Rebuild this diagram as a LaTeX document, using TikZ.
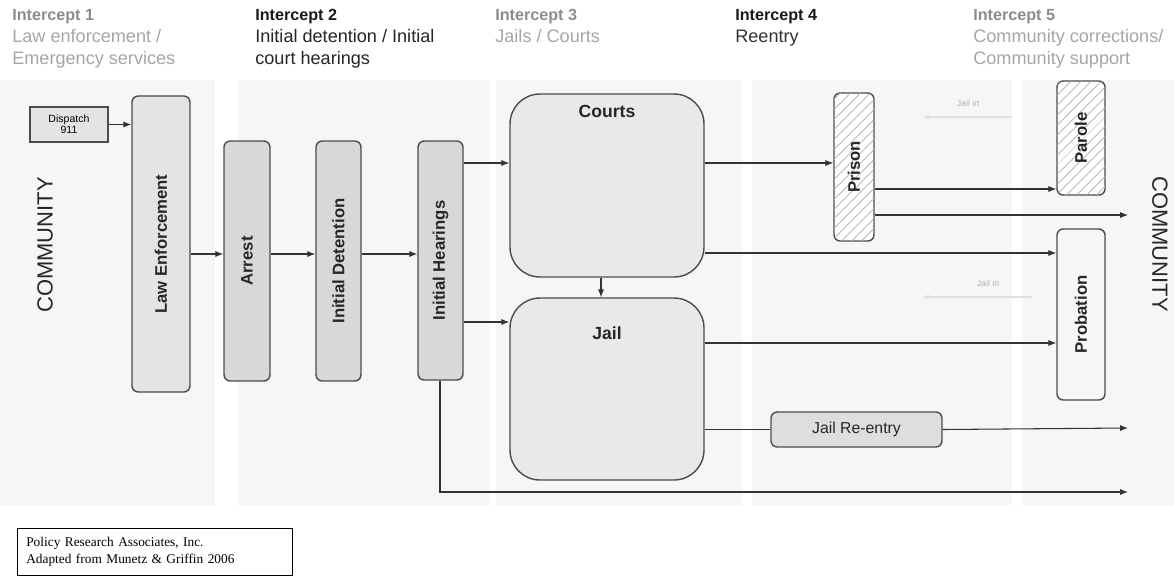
\documentclass[tikz,border=0pt]{standalone}
\usepackage{fontspec}
\setmainfont{Liberation Sans}
\newfontfamily\footfont{Liberation Serif}
\usetikzlibrary{arrows.meta,patterns.meta}
\definecolor{boxline}{HTML}{4C4C4C}
\definecolor{hdgray}{HTML}{8C8C8C}
\definecolor{subgray}{HTML}{A6A6A6}
\definecolor{lawfill}{HTML}{E4E4E4}
\definecolor{stagefill}{HTML}{D8D8D8}
\definecolor{bigfill}{HTML}{E9E9E9}
\definecolor{bandgray}{HTML}{F6F6F6}
\begin{document}
\begin{tikzpicture}[%
        x=0.02cm, y=-0.02cm,
        stage/.style={draw=boxline, line width=0.8pt, rounded corners=3.5pt,
            fill=stagefill, inner sep=0pt},
        vlabel/.style={rotate=90, font=\fontsize{9.5}{11}\selectfont\bfseries,
            text=black!85},
        hatched/.style={stage, fill=white,
            postaction={pattern={Lines[angle=45,distance=4pt,line width=0.5pt]},
                pattern color=black!30}},
        bigbox/.style={stage, rounded corners=17pt, fill=bigfill},
        bigtext/.style={font=\fontsize{10}{12}\selectfont\bfseries, text=black!85},
        flow/.style={draw=black!80, line width=0.6pt,
            -{Latex[length=4.5pt,width=3.5pt]}},
        plain/.style={draw=black!80, line width=0.6pt},
        ghost/.style={draw=black!12, line width=0.6pt,
            -{Latex[length=4pt,width=3pt]}},
        ghosttext/.style={font=\fontsize{5}{6}\selectfont, text=black!30},
        heading/.style={anchor=north west, inner sep=0pt, align=left,
            font=\fontsize{10.3}{12.6}\selectfont},
        community/.style={font=\fontsize{12.5}{14}\selectfont, text=black!85}
    ]
        \useasboundingbox (0,0) rectangle (1174,576);
        \fill[white] (0,0) rectangle (1174,576);
        \foreach \xa/\xb in {0/215, 238/490, 496/742, 752/1012, 1022/1174}
            \fill[bandgray] (\xa,80) rectangle (\xb,505);

        % intercept headings
        \foreach \n/\x/\tcol/\scol/\sub in
            {1/12/hdgray/subgray/{Law enforcement /\\Emergency services},
             2/255/black!90/black!85/{Initial detention / Initial\\court hearings},
             3/495/hdgray/subgray/{Jails / Courts},
             4/735/black!90/black!80/{Reentry},
             5/973/hdgray/subgray/{Community corrections/\\Community support}}
            \node [heading, text=\scol] (icpt\n) at (\x,9)
                {\textcolor{\tcol}{\fontsize{9.2}{12.6}\selectfont\bfseries
                    Intercept \n}\\\sub};

        \node [community, rotate=90] (commleft) at (45,245) {COMMUNITY};
        \node [community, rotate=-90] (commright) at (1160,244) {COMMUNITY};

        % stages
        \node [stage, rounded corners=0pt, fill=lawfill, minimum width=1.56cm,
            minimum height=0.70cm, align=center,
            font=\fontsize{6}{6.5}\selectfont] (dispatch) at (69,124.5)
            {Dispatch\\911};
        \node [stage, fill=lawfill, minimum width=1.16cm, minimum height=5.92cm,
            label={[vlabel]center:Law Enforcement}] (law) at (161,244) {};
        \node [stage, minimum width=0.92cm, minimum height=4.80cm,
            label={[vlabel]center:Arrest}] (arrest) at (247,261) {};
        \node [stage, minimum width=0.90cm, minimum height=4.80cm,
            label={[vlabel]center:Initial Detention}] (detention) at (338.5,261) {};
        \node [stage, minimum width=0.90cm, minimum height=4.78cm,
            label={[vlabel]center:Initial Hearings}] (hearings) at (440.5,260.5) {};
        \node [bigbox, minimum width=3.88cm, minimum height=3.66cm,
            label={[bigtext, below=3pt]north:Courts}] (courts) at (607,185.5) {};
        \node [bigbox, minimum width=3.88cm, minimum height=3.64cm,
            label={[bigtext, below=13pt]north:Jail}] (jail) at (607,389) {};
        \node [hatched, minimum width=0.80cm, minimum height=2.96cm,
            label={[vlabel]center:Prison}] (prison) at (854,167) {};
        \node [hatched, minimum width=0.96cm, minimum height=2.28cm,
            label={[vlabel]center:Parole}] (parole) at (1081,138) {};
        \node [stage, fill=black!3, minimum width=0.96cm, minimum height=3.42cm,
            label={[vlabel]center:Probation}] (probation) at (1081,314.5) {};
        \node [stage, fill=black!13, minimum width=3.42cm, minimum height=0.70cm,
            font=\fontsize{9}{10}\selectfont, text=black!85] (reentry)
            at (856.5,429.5) {Jail Re-entry};

        \node [draw=black, line width=0.6pt, fill=white, anchor=north west,
            text width=5.14cm, minimum height=0.94cm, align=left,
            font=\footfont\fontsize{7.6}{9.6}\selectfont, inner xsep=5pt]
            (credit) at (17,528)
            {Policy Research Associates, Inc.\\Adapted from Munetz \& Griffin 2006};

        % free ends into the community
        \coordinate (commA) at (1128,215);
        \coordinate (commB) at (1128,428);
        \coordinate (commC) at (1128,492);
        \coordinate (ghostA) at (1012,117);
        \coordinate (ghostAtip) at (922,117);
        \coordinate (ghostB) at (1032,297);
        \coordinate (ghostBtip) at (922,297);
        \node [ghosttext] (jailinA) at (968,103) {Jail in};
        \node [ghosttext] (jailinB) at (988,283) {Jail in};

        % connectors
        \draw [flow] (dispatch.east) -- (law.west |- dispatch.east);
        \foreach \a/\b in {law/arrest, arrest/detention, detention/hearings}
            \draw [flow] (\a.east |- 0,254) -- (\b.west |- 0,254);
        \draw [flow] (hearings.east |- 0,163) -- (courts.west |- 0,163);
        \draw [flow] (hearings.east |- 0,322) -- (jail.west |- 0,322);
        \draw [flow] (courts.south -| 601,0) -- (jail.north -| 601,0);
        \draw [flow] (courts.east |- 0,163) -- (prison.west |- 0,163);
        \draw [flow] (prison.east |- 0,189) -- (parole.west |- 0,189);
        \draw [flow] (prison.east |- commA) -- (commA);
        \draw [flow] (courts.east |- 0,253) -- (probation.west |- 0,253);
        \draw [flow] (jail.east |- 0,343) -- (probation.west |- 0,343);
        \draw [plain] (jail.east |- reentry.west) -- (reentry.west);
        \draw [flow] (reentry.east) -- (commB);
        \draw [flow] (hearings.south -| 440,0) |- (commC);
        \draw [ghost] (ghostA) -- (ghostAtip);
        \draw [ghost] (ghostB) -- (ghostBtip);
    \end{tikzpicture}
\end{document}
